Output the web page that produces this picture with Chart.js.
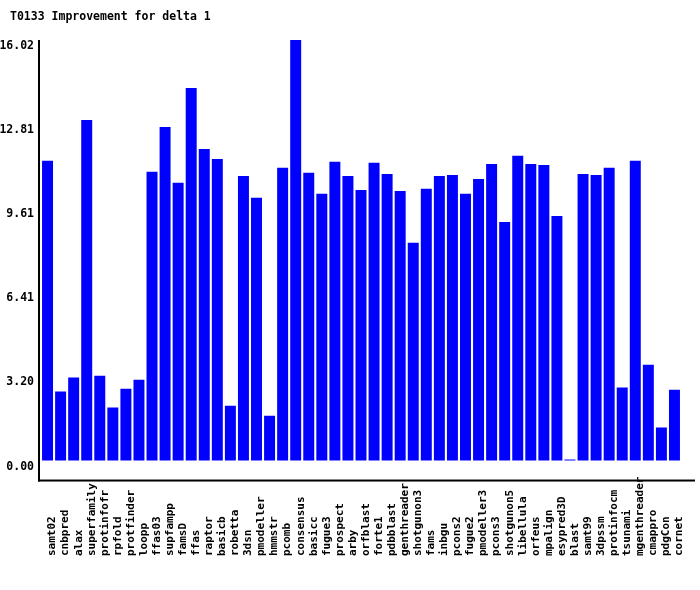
<!DOCTYPE html>
<html>
<head>
<meta charset="utf-8">
<script src="https://cdn.jsdelivr.net/npm/chart.js@4.4.1/dist/chart.umd.min.js"></script>
<style>
    body { margin: 0; background: #ffffff; }
    canvas { display: block; }
</style>
</head>
<body>
<canvas id="grafico" width="700" height="590"></canvas>
<script>
var titulo = 'T0133 Improvement for delta 1';

var categorias = [
    'samt02', 'cnbpred', 'alax', 'superfamily', 'protinfofr', 'rpfold', 'protfinder',
    'loopp', 'ffas03', 'supfampp', 'famsD', 'ffas', 'raptor', 'basicb', 'robetta',
    '3dsn', 'pmodeller', 'hmmstr', 'pcomb', 'consensus', 'basicc', 'fugue3',
    'prospect', 'arby', 'orfblast', 'forte1', 'pdbblast', 'genthreader', 'shotgunon3',
    'fams', 'inbgu', 'pcons2', 'fugue2', 'pmodeller3', 'pcons3', 'shotgunon5',
    'libellula', 'orfeus', 'mpalign', 'esypred3D', 'blast', 'samt99', '3dpssm',
    'protinfocm', 'tsunami', 'mgenthreader', 'cmappro', 'pdgCon', 'cornet'
];

var valores = [
    11.42, 2.63, 3.16, 12.97, 3.23, 2.02, 2.74, 3.08, 11.00, 12.71,
    10.58, 14.19, 11.87, 11.49, 2.09, 10.84, 10.01, 1.71, 11.15, 16.02,
    10.96, 10.16, 11.38, 10.84, 10.31, 11.34, 10.92, 10.27, 8.30, 10.35,
    10.84, 10.88, 10.16, 10.73, 11.30, 9.09, 11.61, 11.30, 11.26, 9.32,
    0.04, 10.92, 10.88, 11.15, 2.78, 11.42, 3.65, 1.26, 2.70
];

var yTicks = ['0.00', '3.20', '6.41', '9.61', '12.81', '16.02'];
var yMax = 16.02;

var fonte = 'DejaVu Sans Mono';

// titulo e linhas dos eixos
var extras = {
    id: 'extras',
    afterDraw: function (chart) {
        var ctx = chart.ctx;
        var area = chart.chartArea;
        ctx.save();
        ctx.fillStyle = '#000000';
        ctx.font = 'bold 11.5px "' + fonte + '"';
        ctx.textBaseline = 'middle';
        ctx.textAlign = 'left';
        ctx.fillText(titulo, 10, 17);

        ctx.fillRect(area.left - 3, area.top, 2, area.bottom - area.top + 6);
        ctx.fillRect(area.left - 3, area.bottom + 4, area.right - area.left + 17, 2);
        ctx.restore();
    }
};

var grafico = new Chart(document.getElementById('grafico'), {
    type: 'bar',
    data: {
        labels: categorias,
        datasets: [{
            label: titulo,
            data: valores,
            backgroundColor: '#0000ff',
            borderWidth: 0,
            barPercentage: 0.84,
            categoryPercentage: 1
        }]
    },
    options: {
        responsive: false,
        animation: false,
        layout: {
            padding: { top: 40, right: 19, bottom: 33, left: 0 }
        },
        plugins: {
            legend: { display: false },
            title: { display: false },
            tooltip: { enabled: false }
        },
        scales: {
            x: {
                grid: { display: false, drawTicks: false },
                border: { display: false },
                ticks: {
                    color: '#000000',
                    font: { family: fonte, size: 11, weight: 'bold' },
                    minRotation: 90,
                    maxRotation: 90,
                    autoSkip: false,
                    padding: 1,
                    labelOffset: 5,
                    callback: function (v, i) {
                        return categorias[i].padEnd(12, ' ');
                    }
                }
            },
            y: {
                min: -0.57,
                max: yMax,
                grid: { display: false, drawTicks: false },
                border: { display: false },
                afterBuildTicks: function (scale) {
                    scale.ticks = yTicks.map(function (t, i) {
                        return { value: yMax * i / (yTicks.length - 1) };
                    });
                },
                afterFit: function (scale) {
                    scale.width = 41;
                },
                ticks: {
                    color: '#000000',
                    font: { family: fonte, size: 11.5, weight: 'bold' },
                    padding: 7,
                    labelOffset: 6,
                    callback: function (v, i) {
                        return yTicks[i];
                    }
                }
            }
        }
    },
    plugins: [extras]
});
</script>
</body>
</html>
